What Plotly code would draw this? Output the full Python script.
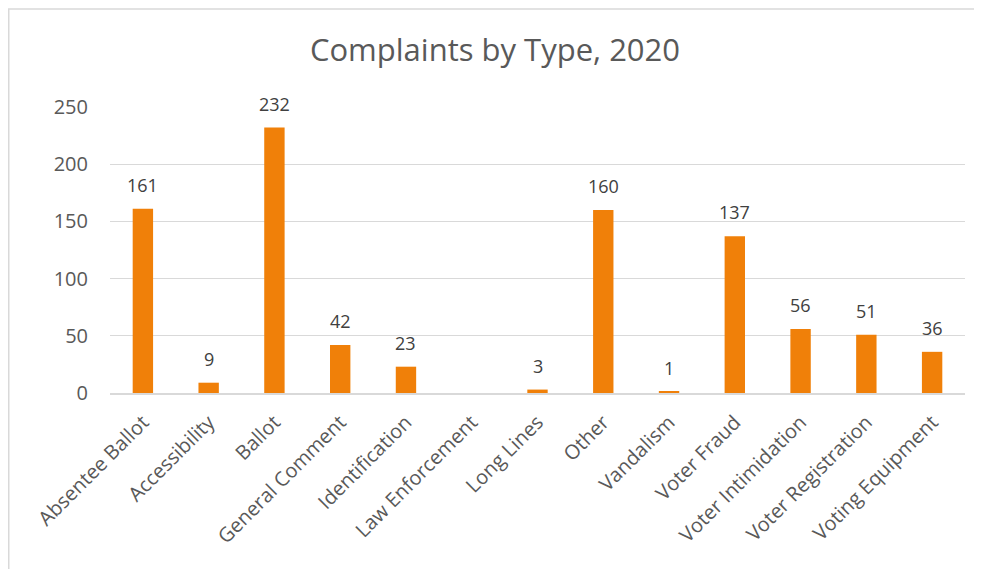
import plotly.graph_objects as go

categories = ["Absentee Ballot", "Accessibility", "Ballot", "General Comment",
              "Identification", "Law Enforcement", "Long Lines", "Other",
              "Vandalism", "Voter Fraud", "Voter Intimidation",
              "Voter Registration", "Voting Equipment"]
values = [161, 9, 232, 42, 23, None, 3, 160, 1, 137, 56, 51, 36]
y_ticks = [0, 50, 100, 150, 200, 250]

# page body has an 8px offset, so the figure is drawn slightly smaller
W, H = 974, 561
L, R, T, B = 102, 17, 99, 176
pw = W - L - R
ph = H - T - B

fig = go.Figure(go.Bar(
    x=categories, y=values,
    marker=dict(color="#F08009", line=dict(width=0)),
))

for c, v in zip(categories, values):
    if v is None:
        continue
    fig.add_annotation(x=c, y=v, text=str(v), showarrow=False,
                       yanchor="middle", yshift=24,
                       font=dict(family="Open Sans", size=18, color="#404040"))

fig.update_layout(
    width=W, height=H,
    margin=dict(l=L, r=R, t=T, b=B),
    paper_bgcolor="white", plot_bgcolor="white",
    bargap=0.69,
    showlegend=False,
    title=dict(text="Complaints by Type, 2020", x=0.5, xanchor="center",
               y=1 - 42 / H, yanchor="middle",
               font=dict(family="Open Sans", size=31, color="#595959")),
    font=dict(family="Open Sans", color="#595959"),
    xaxis=dict(tickangle=-45, tickfont=dict(size=20, color="#595959"),
               showgrid=False, showline=True, linecolor="#D9D9D9", linewidth=1.5,
               ticks="", automargin=False, ticklabelstandoff=8),
    yaxis=dict(range=[0, 250], tickvals=y_ticks, showgrid=True,
               gridcolor="#D9D9D9", gridwidth=1, zeroline=False,
               tickfont=dict(size=20, color="#595959"), ticks="",
               ticklabelstandoff=21, automargin=False),
)

# outer chart border (top and left edges visible)
fig.add_shape(type="line", xref="paper", yref="paper",
              x0=(0 - L) / pw, x1=(W + 8 - L) / pw, y0=1 + (T - 1) / ph, y1=1 + (T - 1) / ph,
              line=dict(color="#D9D9D9", width=1.5))
fig.add_shape(type="line", xref="paper", yref="paper",
              x0=(0.75 - L) / pw, x1=(0.75 - L) / pw, y0=1 + (T - 1) / ph, y1=-B / ph,
              line=dict(color="#D9D9D9", width=1.5))

fig.write_html("out.html")
